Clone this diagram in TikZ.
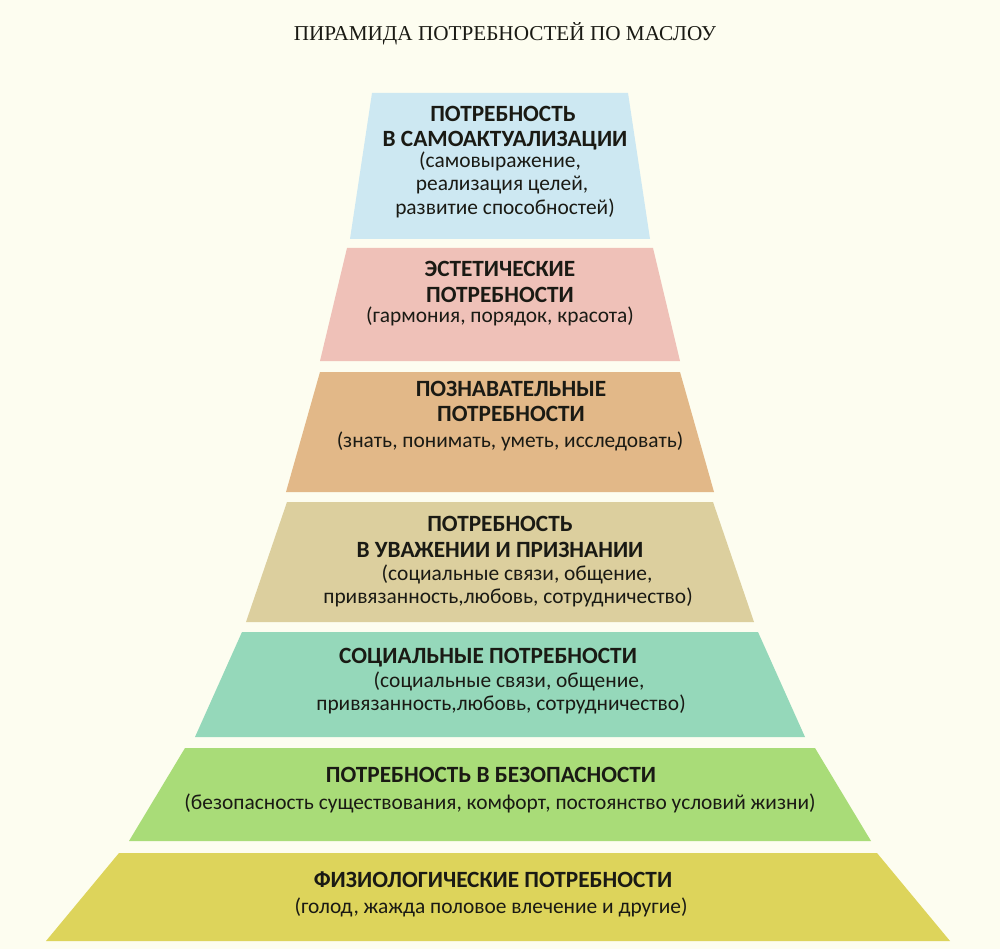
\documentclass[tikz,border=0pt]{standalone}
\usepackage{fontspec}
\setmainfont{Carlito}
\newfontfamily\titlefont{Liberation Serif}
\definecolor{bgc}{HTML}{FDFDF0}
\definecolor{cA}{HTML}{CDE8F2}
\definecolor{cB}{HTML}{EFC1B8}
\definecolor{cC}{HTML}{E2B888}
\definecolor{cD}{HTML}{DCCF9E}
\definecolor{cE}{HTML}{95D8BA}
\definecolor{cF}{HTML}{A9DC78}
\definecolor{cG}{HTML}{DDD45B}
\definecolor{txt}{HTML}{1A1A14}
\tikzset{
  head/.style={anchor=base, inner sep=0pt, text=txt, font=\fontsize{23.3}{27}\selectfont\bfseries},
  sub/.style={anchor=base, inner sep=0pt, text=txt, font=\fontsize{21.4}{25}\selectfont},
  ttl/.style={anchor=base, inner sep=0pt, text=txt, font=\titlefont\fontsize{21.2}{25}\selectfont},
}
\begin{document}
\begin{tikzpicture}[x=1pt,y=-1pt]
\fill[bgc] (0,0) rectangle (1000,949);
\useasboundingbox (0,0) rectangle (1000,949);
% layers
\fill[cA] (372,93) -- (628,93) -- (650,239) -- (350,239) -- cycle;
\fill[cB] (347,248) -- (653,248) -- (680,361) -- (320,361) -- cycle;
\fill[cC] (320,372) -- (680,372) -- (714,492) -- (286,492) -- cycle;
\fill[cD] (287,502) -- (713,502) -- (754,622) -- (246,622) -- cycle;
\fill[cE] (242,632) -- (758,632) -- (805,737) -- (195,737) -- cycle;
\fill[cF] (185,748) -- (815,748) -- (871,841) -- (129,841) -- cycle;
\fill[cG] (119,853) -- (877,853) -- (950,941) -- (46,941) -- cycle;
% title
\node[ttl] (title) at (505,41) {ПИРАМИДА ПОТРЕБНОСТЕЙ ПО МАСЛОУ};
% layer 1
\node[head] (a1) at (503,122) {ПОТРЕБНОСТЬ};
\node[head] (a2) at (505,147) {В САМОАКТУАЛИЗАЦИИ};
\node[sub] (a3) at (500,168) {(самовыражение,};
\node[sub] (a4) at (502,191) {реализация целей,};
\node[sub] (a5) at (505,215) {развитие способностей)};
% layer 2
\node[head] (b1) at (500,277) {ЭСТЕТИЧЕСКИЕ};
\node[head] (b2) at (500,302) {ПОТРЕБНОСТИ};
\node[sub] (b3) at (500,322) {(гармония, порядок, красота)};
% layer 3
\node[head] (c1) at (511,396) {ПОЗНАВАТЕЛЬНЫЕ};
\node[head] (c2) at (511,421) {ПОТРЕБНОСТИ};
\node[sub] (c3) at (510,447) {(знать, понимать, уметь, исследовать)};
% layer 4
\node[head] (d1) at (500,531) {ПОТРЕБНОСТЬ};
\node[head] (d2) at (500,557) {В УВАЖЕНИИ И ПРИЗНАНИИ};
\node[sub] (d3) at (517,580) {(социальные связи, общение,};
\node[sub] (d4) at (508,603) {привязанность,любовь, сотрудничество)};
% layer 5
\node[head] (e1) at (488,663) {СОЦИАЛЬНЫЕ ПОТРЕБНОСТИ};
\node[sub] (e2) at (509,687) {(социальные связи, общение,};
\node[sub] (e3) at (501,710) {привязанность,любовь, сотрудничество)};
% layer 6
\node[head] (f1) at (491,782) {ПОТРЕБНОСТЬ В БЕЗОПАСНОСТИ};
\node[sub] (f2) at (500,809) {(безопасность существования, комфорт, постоянство условий жизни)};
% layer 7
\node[head] (g1) at (493,887) {ФИЗИОЛОГИЧЕСКИЕ ПОТРЕБНОСТИ};
\node[sub] (g2) at (491,913) {(голод, жажда половое влечение и другие)};
\end{tikzpicture}
\end{document}
